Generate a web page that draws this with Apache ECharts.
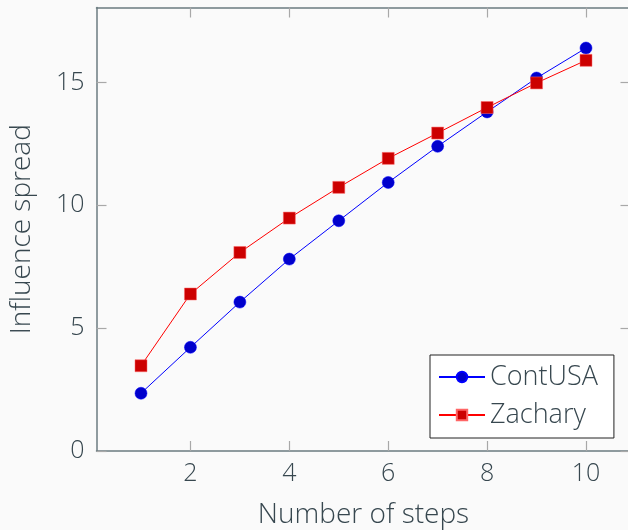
<!DOCTYPE html>
<html>
<head>
<meta charset="utf-8">
<script src="https://cdn.jsdelivr.net/npm/echarts@6/dist/echarts.min.js"></script>
<style>
html,body{margin:0;padding:0;background:#fafafa;}
#chart{width:628px;height:530px;}
</style>
</head>
<body>
<div id="chart"></div>
<script>
const steps = [1, 2, 3, 4, 5, 6, 7, 8, 9, 10];
const contUSA = [2.35, 4.22, 6.06, 7.81, 9.37, 10.93, 12.40, 13.80, 15.18, 16.40];
const zachary = [3.47, 6.39, 8.08, 9.48, 10.73, 11.91, 12.94, 13.98, 14.98, 15.90];
const xTicks = [2, 4, 6, 8, 10];
const yTicks = [0, 5, 10, 15];

const font = "'Open Sans', sans-serif";
const textColor = '#37474f';
const frameColor = '#6b7b80';
const tickColor = '#a8a8a8';

const chart = echarts.init(document.getElementById('chart'), null, {renderer: 'canvas'});

function pairs(xs, ys) { return xs.map((x, i) => [x, ys[i]]); }

chart.setOption({
  backgroundColor: '#fafafa',
  animation: false,
  textStyle: {fontFamily: font},
  grid: {left: 96.5, top: 7.5, width: 534, bottom: 79, containLabel: false, outerBoundsMode: 'none'},
  legend: {
    left: 430, top: 355,
    orient: 'vertical',
    backgroundColor: '#ffffff',
    borderColor: '#222222', borderWidth: 1,
    padding: [7, 16, 8, 8],
    itemWidth: 46, itemHeight: 13, itemGap: 8,
    textStyle: {fontFamily: font, fontSize: 27, fontWeight: 300, color: textColor, lineHeight: 30},
    data: ['ContUSA', 'Zachary']
  },
  xAxis: [{
    type: 'value', min: 0.1, max: 10.9, position: 'bottom',
    name: 'Number of steps', nameLocation: 'middle', nameGap: 50,
    nameTextStyle: {fontFamily: font, fontSize: 28, fontWeight: 300, color: textColor},
    axisLine: {show: true, onZero: false, lineStyle: {color: frameColor, width: 1.5}},
    axisTick: {show: true, inside: true, length: 10, customValues: xTicks, lineStyle: {color: tickColor, width: 1.2}},
    axisLabel: {customValues: xTicks, margin: 10, fontFamily: font, fontSize: 25, fontWeight: 300, color: textColor},
    splitLine: {show: false}
  }, {
    type: 'value', min: 0.1, max: 10.9, position: 'top',
    axisLine: {show: true, onZero: false, lineStyle: {color: frameColor, width: 1.5}},
    axisTick: {show: true, inside: true, length: 10, customValues: xTicks, lineStyle: {color: tickColor, width: 1.2}},
    axisLabel: {show: false},
    splitLine: {show: false}
  }],
  yAxis: [{
    type: 'value', min: 0, max: 18.05, position: 'left',
    name: 'Influence spread', nameLocation: 'middle', nameGap: 60, nameRotate: 90,
    nameTextStyle: {fontFamily: font, fontSize: 28, fontWeight: 300, color: textColor},
    axisLine: {show: true, onZero: false, lineStyle: {color: frameColor, width: 1.5}},
    axisTick: {show: true, inside: true, length: 10, customValues: yTicks, lineStyle: {color: tickColor, width: 1.2}},
    axisLabel: {customValues: yTicks, margin: 12, fontFamily: font, fontSize: 25, fontWeight: 300, color: textColor},
    splitLine: {show: false}
  }, {
    type: 'value', min: 0, max: 18.05, position: 'right',
    axisLine: {show: true, onZero: false, lineStyle: {color: frameColor, width: 1.5}},
    axisTick: {show: true, inside: true, length: 10, customValues: yTicks, lineStyle: {color: tickColor, width: 1.2}},
    axisLabel: {show: false},
    splitLine: {show: false}
  }],
  series: [{
    name: 'ContUSA', type: 'line',
    data: pairs(steps, contUSA),
    symbol: 'circle', symbolSize: 12,
    lineStyle: {color: '#0000ff', width: 1},
    itemStyle: {color: '#0000cc', borderColor: '#0000ff', borderWidth: 0.5},
    z: 2
  }, {
    name: 'Zachary', type: 'line',
    data: pairs(steps, zachary),
    symbol: 'rect', symbolSize: 12,
    lineStyle: {color: '#ff0000', width: 1},
    itemStyle: {color: '#cc0000', borderColor: '#ff6666', borderWidth: 0.5},
    z: 3
  }]
});
</script>
</body>
</html>
